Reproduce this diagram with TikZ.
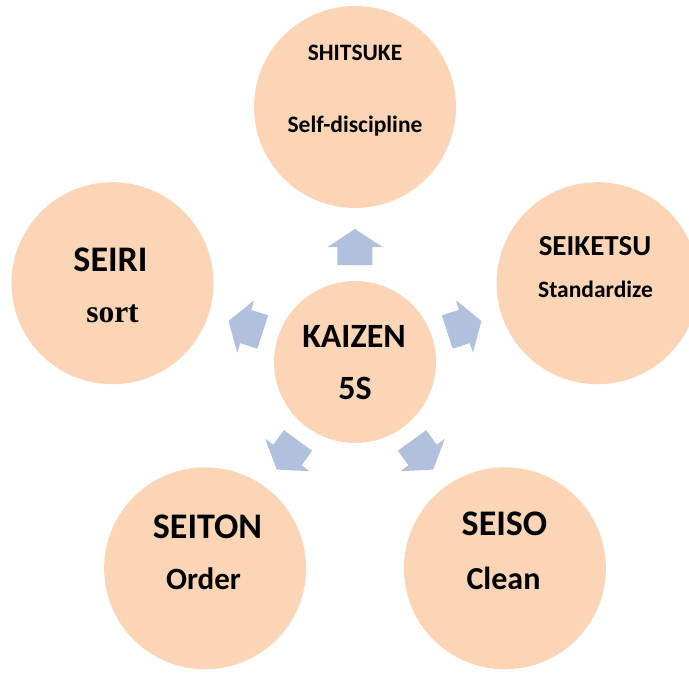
\documentclass[tikz,border=0pt]{standalone}
\usepackage{fontspec}
\setmainfont{Carlito}
\newfontfamily\serifbold{Liberation Serif}
\definecolor{peach}{HTML}{FBD5B5}
\definecolor{arrowblue}{HTML}{B1C1DD}
\begin{document}
\begin{tikzpicture}[x=1pt,y=1pt,
  outer/.style={circle,fill=peach,minimum size=202pt,inner sep=0pt},
  hub/.style={circle,fill=peach,minimum size=162pt,inner sep=0pt},
  lbl/.style={inner sep=0pt},
  fs/.style={font=\bfseries\fontsize{#1}{#1}\selectfont},
]
\useasboundingbox (-355,-311) rectangle (334,362);
% circles
\node[hub] (hub) at (0,0) {};
\node[outer] (shitsuke) at (90:255) {};
\node[outer] (seiketsu) at (18:255) {};
\node[outer] (seiso) at (-54:255) {};
\node[outer] (seiton) at (-126:255) {};
\node[outer] (seiri) at (162:255) {};
% block arrows pointing outward from the hub
\foreach \a in {90,18,-54,-126,162} {
  \fill[arrowblue,rotate=\a] (97,-17.5) -- (115,-17.5) -- (115,-27.5) -- (133,0)
    -- (115,27.5) -- (115,17.5) -- (97,17.5) -- cycle;
}
% labels
\node[lbl,fs=34] (t-kaizen) at (-1,26) {KAIZEN};
\node[lbl,fs=34] (t-5s) at (0,-26) {5S};
\node[lbl,fs=23.5] (t-shitsuke) at (0,309) {SHITSUKE};
\node[lbl,fs=23.5] (t-self) at (0,235.5) {Self-discipline};
\node[lbl,fs=29] (t-seiketsu) at (240,116) {SEIKETSU};
\node[lbl,fs=23.5] (t-standard) at (240.5,73) {Standardize};
\node[lbl,fs=36] (t-seiri) at (-244.5,102) {SEIRI};
\node[lbl,font=\serifbold\bfseries\fontsize{31.5}{32}\selectfont] (t-sort) at (-242.5,48) {sort};
\node[lbl,fs=36] (t-seiton) at (-147.5,-165) {SEITON};
\node[lbl,fs=31] (t-order) at (-151.5,-217) {Order};
\node[lbl,fs=36] (t-seiso) at (149.5,-162) {SEISO};
\node[lbl,fs=32] (t-clean) at (148.5,-216) {Clean};
\end{tikzpicture}
\end{document}
